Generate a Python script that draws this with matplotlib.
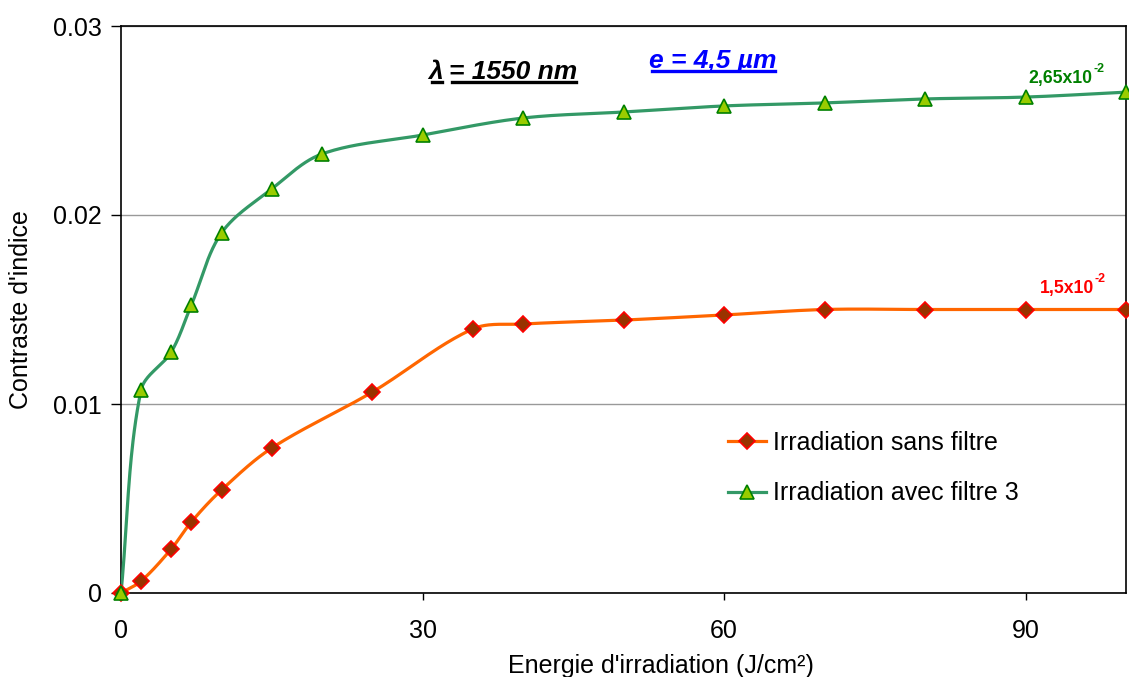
import numpy as np
import matplotlib
matplotlib.use("Agg")
import matplotlib.pyplot as plt

plt.rcParams['font.family'] = ['Liberation Sans', 'DejaVu Sans']

energie = [0, 2, 5, 7, 10, 15, 25, 35, 40, 50, 60, 70, 80, 90, 100]
sans_filtre = [0, 0.00063, 0.00233, 0.00376, 0.00545, 0.00767, 0.01063, 0.01397,
               0.01423, 0.01444, 0.01471, 0.01500, 0.01500, 0.01500, 0.01500]
energie_f3 = [0, 2, 5, 7, 10, 15, 20, 30, 40, 50, 60, 70, 80, 90, 100]
avec_filtre = [0, 0.01074, 0.01275, 0.01524, 0.01905, 0.02138, 0.02323, 0.02423,
               0.02513, 0.02545, 0.02577, 0.02593, 0.02614, 0.02624, 0.02650]

labels = ["Irradiation sans filtre", "Irradiation avec filtre 3"]
x_ticks = [0, 30, 60, 90]
y_ticks = [0, 0.01, 0.02, 0.03]
y_ticklabels = ["0", "0.01", "0.02", "0.03"]

FS = 18


def smooth(ax, xs, ys, n=40):
    """Smoothed line (chord-length cubic Bezier) computed in display space."""
    P = ax.transData.transform(np.column_stack([xs, ys]).astype(float))
    d = np.hypot(*np.diff(P, axis=0).T)
    out = []
    N = len(P)
    for i in range(N - 1):
        p1, p2 = P[i], P[i + 1]
        if i == 0:
            m1 = (p2 - p1) / d[i]
        else:
            m1 = (p2 - P[i - 1]) / (d[i - 1] + d[i])
        if i + 2 < N:
            m2 = (P[i + 2] - p1) / (d[i] + d[i + 1])
        else:
            m2 = (p2 - p1) / d[i]
        c1 = p1 + m1 * d[i] / 3.0
        c2 = p2 - m2 * d[i] / 3.0
        t = np.linspace(0, 1, n)[:, None]
        seg = ((1 - t) ** 3) * p1 + 3 * ((1 - t) ** 2) * t * c1 + 3 * (1 - t) * t ** 2 * c2 + t ** 3 * p2
        out.append(seg if i == 0 else seg[1:])
    seg = np.vstack(out)
    D = ax.transData.inverted().transform(seg)
    return D[:, 0], D[:, 1]


fig = plt.figure(figsize=(11.29, 6.77), dpi=100)
ax = fig.add_axes([121 / 1129, 1 - 593 / 677, (1126 - 121) / 1129, (593 - 26) / 677])
ax.set_xlim(0, 100)
ax.set_ylim(0, 0.03)

orange = '#FF6600'
green = '#339966'

sx, sy = smooth(ax, energie, sans_filtre)
ax.plot(sx, sy, color=orange, lw=2.3, zorder=3)
ax.plot(energie, sans_filtre, ls='none', marker='D', ms=8, mfc='#993300', mec='#FF0000',
        mew=1.2, zorder=4, clip_on=False)

gx, gy = smooth(ax, energie_f3, avec_filtre)
ax.plot(gx, gy, color=green, lw=2.3, zorder=3)
ax.plot(energie_f3, avec_filtre, ls='none', marker='^', ms=10, mfc='#99CC00', mec='#008000',
        mew=1.2, zorder=5, clip_on=False)

h1, = ax.plot([], [], color=orange, lw=2.3, marker='D', ms=8, mfc='#993300', mec='#FF0000', mew=1.2)
h2, = ax.plot([], [], color=green, lw=2.3, marker='^', ms=10, mfc='#99CC00', mec='#008000', mew=1.2)
leg = ax.legend([h1, h2], labels, loc='upper left', bbox_to_anchor=(0.582, 0.325),
                frameon=False, fontsize=FS, handlelength=1.5, handletextpad=0.3,
                labelspacing=1.05)

ax.set_xticks(x_ticks)
ax.set_yticks(y_ticks)
ax.set_yticklabels(y_ticklabels)
ax.tick_params(axis='both', labelsize=FS, width=1, color='black', direction='out')
ax.tick_params(axis='y', length=7, pad=7)
ax.tick_params(axis='x', length=5, pad=14)
for s in ax.spines.values():
    s.set_color('black')
    s.set_linewidth(1.2)
ax.yaxis.grid(True, color='#999999', lw=1)
ax.set_axisbelow(True)

ax.set_xlabel("Energie d'irradiation (J/cm²)", fontsize=FS)
ax.xaxis.set_label_coords(0.537, -0.107)
ax.xaxis.label.set_va('top')
ax.set_ylabel("Contraste d'indice", fontsize=FS, labelpad=14)

fig.canvas.draw()
r = fig.canvas.get_renderer()


def sup_label(x, y, base, sup, color):
    tb = ax.text(x, y, base, color=color, fontsize=12.7, fontweight='bold',
                 ha='right', va='baseline')
    fig.canvas.draw()
    ts = ax.annotate(sup, xy=(1, 1), xycoords=tb, xytext=(0.5, -3.5), textcoords='offset points',
                     color=color, fontsize=9, fontweight='bold', ha='left', va='bottom')
    return tb, ts


sup_label(96.7, 0.02698, "2,65x10", "-2", '#008000')
sup_label(96.8, 0.01587, "1,5x10", "-2", '#FF0000')

t1 = ax.text(30.6, 0.02755, "λ", fontsize=19, fontweight='bold', style='italic',
             color='black', ha='left', va='center')
t2 = ax.text(32.6, 0.02755, "= 1550 nm", fontsize=19, fontweight='bold', style='italic',
             color='black', ha='left', va='center')
t3 = ax.text(52.5, 0.02815, "e = 4,5 µm", fontsize=19, fontweight='bold', style='italic',
             color='#0000FF', ha='left', va='center')

fig.canvas.draw()
inv = fig.transFigure.inverted()
for t, c in [(t1, 'black'), (t2, 'black'), (t3, '#0000FF')]:
    bb = t.get_window_extent(renderer=r)
    (x0, y0), (x1, y1) = inv.transform([(bb.x0, bb.y0), (bb.x1, bb.y1)])
    yl = y0 + 0.0035
    fig.add_artist(plt.Line2D([x0 + 0.003, x1 - 0.001], [yl, yl], color=c, lw=2.4,
                              transform=fig.transFigure))

fig.savefig("out.png", dpi=100)
